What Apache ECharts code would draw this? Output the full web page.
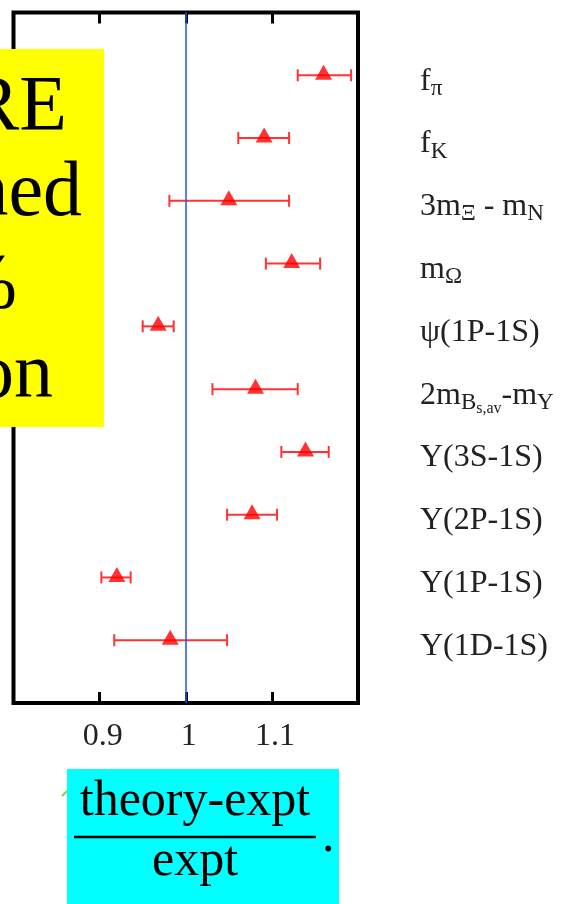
<!DOCTYPE html>
<html>
<head>
<meta charset="utf-8">
<script src="https://cdn.jsdelivr.net/npm/echarts@6/dist/echarts.min.js"></script>
<style>html,body{margin:0;padding:0;background:#fff;}#c{width:566px;height:904px;}</style>
</head>
<body>
<div id="c"></div>
<script>
// Quantities (top to bottom), rich-text markup for subscripts
const labels = ['f{s|π}', 'f{s|K}', '3m{s|Ξ} - m{s|N}', 'm{s|Ω}', 'ψ(1P-1S)',
  '2m{s|B}{ss|s,av}-m{s|Y}', 'Y(3S-1S)', 'Y(2P-1S)', 'Y(1P-1S)', 'Y(1D-1S)'];
// Ratio theory/expt (central values) and error-bar ends
const values  = [1.160, 1.091, 1.050, 1.123, 0.968, 1.081, 1.139, 1.077, 0.920, 0.982];
const errLow  = [1.130, 1.061, 0.981, 1.093, 0.950, 1.031, 1.111, 1.048, 0.902, 0.917];
const errHigh = [1.192, 1.120, 1.120, 1.156, 0.986, 1.130, 1.166, 1.106, 0.936, 1.048];
const xTickLabels = [0.9, 1, 1.1];
const refValue = 1;
const boxLines = ['RE', 'ned', '%', 'on'];
const fracTop = 'theory-expt';
const fracBottom = 'expt';

const chart = echarts.init(document.getElementById('c'), null, {renderer: 'canvas'});
const serif = '"Liberation Serif", "Times New Roman", serif';

const pts = values.map((v, i) => [v, i + 1]);
const bars = values.map((v, i) => [errLow[i], errHigh[i], i + 1]);

function xAxisBase() {
  return {
    type: 'value', min: 0.8, max: 1.2, interval: 0.1,
    axisLine: {show: false, onZero: false},
    splitLine: {show: false},
    axisTick: {show: true, inside: true, length: 11, lineStyle: {color: '#000', width: 3}}
  };
}

chart.setOption({
  animation: false,
  backgroundColor: '#fff',
  grid: {left: 13.5, right: 208, top: 12.5, bottom: 201, show: true,
         borderColor: '#000', borderWidth: 4, backgroundColor: 'transparent'},
  xAxis: [
    Object.assign(xAxisBase(), {
      position: 'bottom',
      axisLabel: {
        show: true, margin: 18, color: '#222', fontFamily: serif, fontSize: 32,
        padding: [0, 0, 0, 6],
        formatter: v => {
          const m = xTickLabels.find(t => Math.abs(t - v) < 1e-6);
          return m === undefined ? '' : String(m);
        }
      }
    }),
    Object.assign(xAxisBase(), {position: 'top', axisLabel: {show: false}})
  ],
  yAxis: {
    type: 'value', min: 0, max: 11, interval: 1, inverse: true, position: 'right',
    axisLine: {show: false, onZero: false}, axisTick: {show: false}, splitLine: {show: false},
    axisLabel: {
      show: true, margin: 62, color: '#222', fontFamily: serif, fontSize: 32,
      align: 'left', padding: [12, 0, 0, 0],
      formatter: v => (v >= 1 && v <= labels.length) ? labels[v - 1] : '',
      rich: {
        s: {fontFamily: serif, fontSize: 23, color: '#222', padding: [15, 0, 0, 0]},
        ss: {fontFamily: serif, fontSize: 16, color: '#222', padding: [28, 0, 0, 0]}
      }
    }
  },
  series: [
    {
      type: 'custom',
      xAxisIndex: 0,
      data: bars,
      renderItem: (params, api) => {
        const y = api.value(2);
        const a = api.coord([api.value(0), y]);
        const b = api.coord([api.value(1), y]);
        const st = {stroke: '#ff3333', lineWidth: 2};
        const h = 6;
        return {
          type: 'group',
          children: [
            {type: 'line', shape: {x1: a[0], y1: a[1], x2: b[0], y2: b[1]}, style: st},
            {type: 'line', shape: {x1: a[0], y1: a[1] - h, x2: a[0], y2: a[1] + h}, style: st},
            {type: 'line', shape: {x1: b[0], y1: b[1] - h, x2: b[0], y2: b[1] + h}, style: st}
          ]
        };
      },
      z: 3
    },
    {
      type: 'scatter',
      xAxisIndex: 0,
      data: pts,
      symbol: 'triangle',
      symbolSize: [17, 15],
      symbolOffset: [0, -3],
      itemStyle: {color: '#ff0000'},
      z: 4,
      markLine: {
        silent: true, symbol: ['none', 'none'], label: {show: false},
        lineStyle: {color: '#2255ee', width: 1.5, type: 'solid'},
        data: [{xAxis: refValue}]
      }
    }
  ],
  graphic: [
    {type: 'rect', z: 100, shape: {x: 0, y: 49, width: 104, height: 378}, style: {fill: '#ffff00'}},
    {type: 'text', z: 101, x: 67, y: 109, style: {text: boxLines[0], font: '78px ' + serif, fill: '#000', textAlign: 'right', textVerticalAlign: 'middle'}},
    {type: 'text', z: 101, x: 82, y: 195, style: {text: boxLines[1], font: '78px ' + serif, fill: '#000', textAlign: 'right', textVerticalAlign: 'middle'}},
    {type: 'text', z: 101, x: 17, y: 287, style: {text: boxLines[2], font: '78px ' + serif, fill: '#000', textAlign: 'right', textVerticalAlign: 'middle'}},
    {type: 'text', z: 101, x: 53, y: 377, style: {text: boxLines[3], font: '78px ' + serif, fill: '#000', textAlign: 'right', textVerticalAlign: 'middle'}},
    {type: 'rect', z: 100, shape: {x: 67, y: 769, width: 272, height: 135}, style: {fill: '#00ffff'}},
    {type: 'text', z: 101, x: 195, y: 802, style: {text: fracTop, font: '50px ' + serif, fill: '#000', textAlign: 'center', textVerticalAlign: 'middle'}},
    {type: 'line', z: 101, shape: {x1: 74, y1: 837, x2: 316, y2: 837}, style: {stroke: '#000', lineWidth: 2.5}},
    {type: 'text', z: 101, x: 195, y: 862, style: {text: fracBottom, font: '50px ' + serif, fill: '#000', textAlign: 'center', textVerticalAlign: 'middle'}},
    {type: 'text', z: 101, x: 322, y: 838, style: {text: '.', font: '50px ' + serif, fill: '#000', textAlign: 'left', textVerticalAlign: 'middle'}},
    {type: 'line', z: 99, shape: {x1: 62, y1: 796, x2: 67, y2: 791}, style: {stroke: '#77dd33', lineWidth: 2}}
  ]
});
</script>
</body>
</html>
